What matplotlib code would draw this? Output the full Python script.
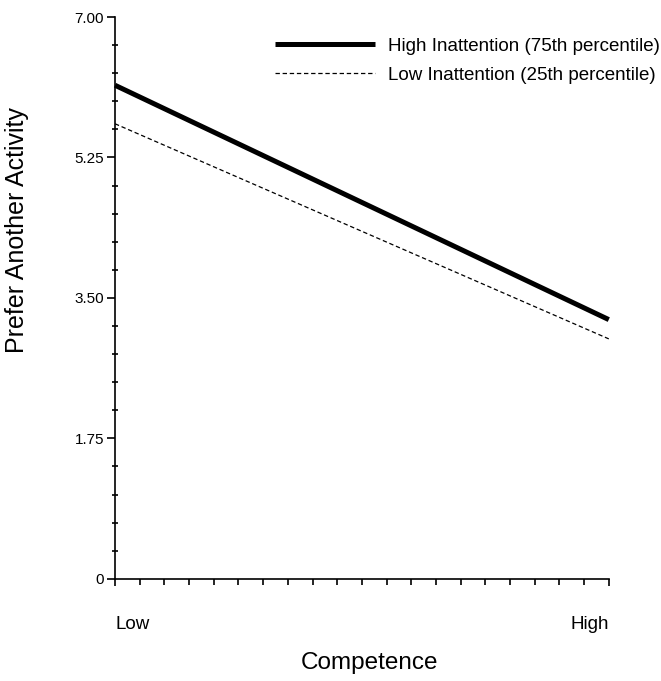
import matplotlib
matplotlib.use('Agg')
import matplotlib.pyplot as plt
import numpy as np

plt.rcParams['font.family'] = ['Liberation Sans', 'DejaVu Sans']

# x: competence (Low -> High), y: prefer another activity
competence = [0, 1]
high_inattention = [6.15, 3.23]
low_inattention = [5.67, 2.99]

y_major = [0, 1.75, 3.50, 5.25, 7.00]
y_major_labels = ['0', '1.75', '3.50', '5.25', '7.00']
x_labels = ['Low', 'High']

fig = plt.figure(figsize=(6.61, 6.81), dpi=100)
ax = fig.add_axes([0.174, 0.150, 0.747, 0.825])

ax.plot(competence, high_inattention, color='black', lw=3.6,
        solid_capstyle='butt', clip_on=False,
        label='High Inattention (75th percentile)')
ax.plot(competence, low_inattention, color='black', lw=0.9,
        dashes=(3.5, 2.2), clip_on=False,
        label='Low Inattention (25th percentile)')

ax.set_xlim(0, 1)
ax.set_ylim(0, 7)

for s in ['top', 'right']:
  ax.spines[s].set_visible(False)
for s in ['left', 'bottom']:
  ax.spines[s].set_linewidth(1.2)

ax.set_yticks(y_major)
ax.set_yticklabels(y_major_labels, fontsize=11)
ax.set_yticks(np.arange(0, 7.01, 0.35), minor=True)
ax.tick_params(axis='y', which='major', direction='out', length=6, width=1.2, pad=2)
ax.tick_params(axis='y', which='minor', direction='inout', length=5, width=1.2)

ax.set_xticks(competence)
ax.set_xticklabels(x_labels, fontsize=13.5)
ax.xaxis.get_majorticklabels()[0].set_ha('left')
ax.xaxis.get_majorticklabels()[1].set_ha('right')
ax.set_xticks(np.arange(0, 1.001, 0.05), minor=True)
ax.tick_params(axis='x', which='major', direction='out', length=5, width=1.2, pad=22)
ax.tick_params(axis='x', which='minor', direction='out', length=4, width=1.2)

ax.set_xlabel('Competence', fontsize=17.5)
ax.xaxis.set_label_coords(0.515, -0.13)
ax.set_ylabel('Prefer Another Activity', fontsize=18)
ax.yaxis.set_label_coords(-0.175, 0.62)

ax.legend(loc='upper left', bbox_to_anchor=(0.324, 0.963), frameon=False,
          fontsize=13.5, handlelength=5.33, handletextpad=0.7,
          labelspacing=0.61, borderaxespad=0, borderpad=0)

fig.savefig('out.png', dpi=100)
